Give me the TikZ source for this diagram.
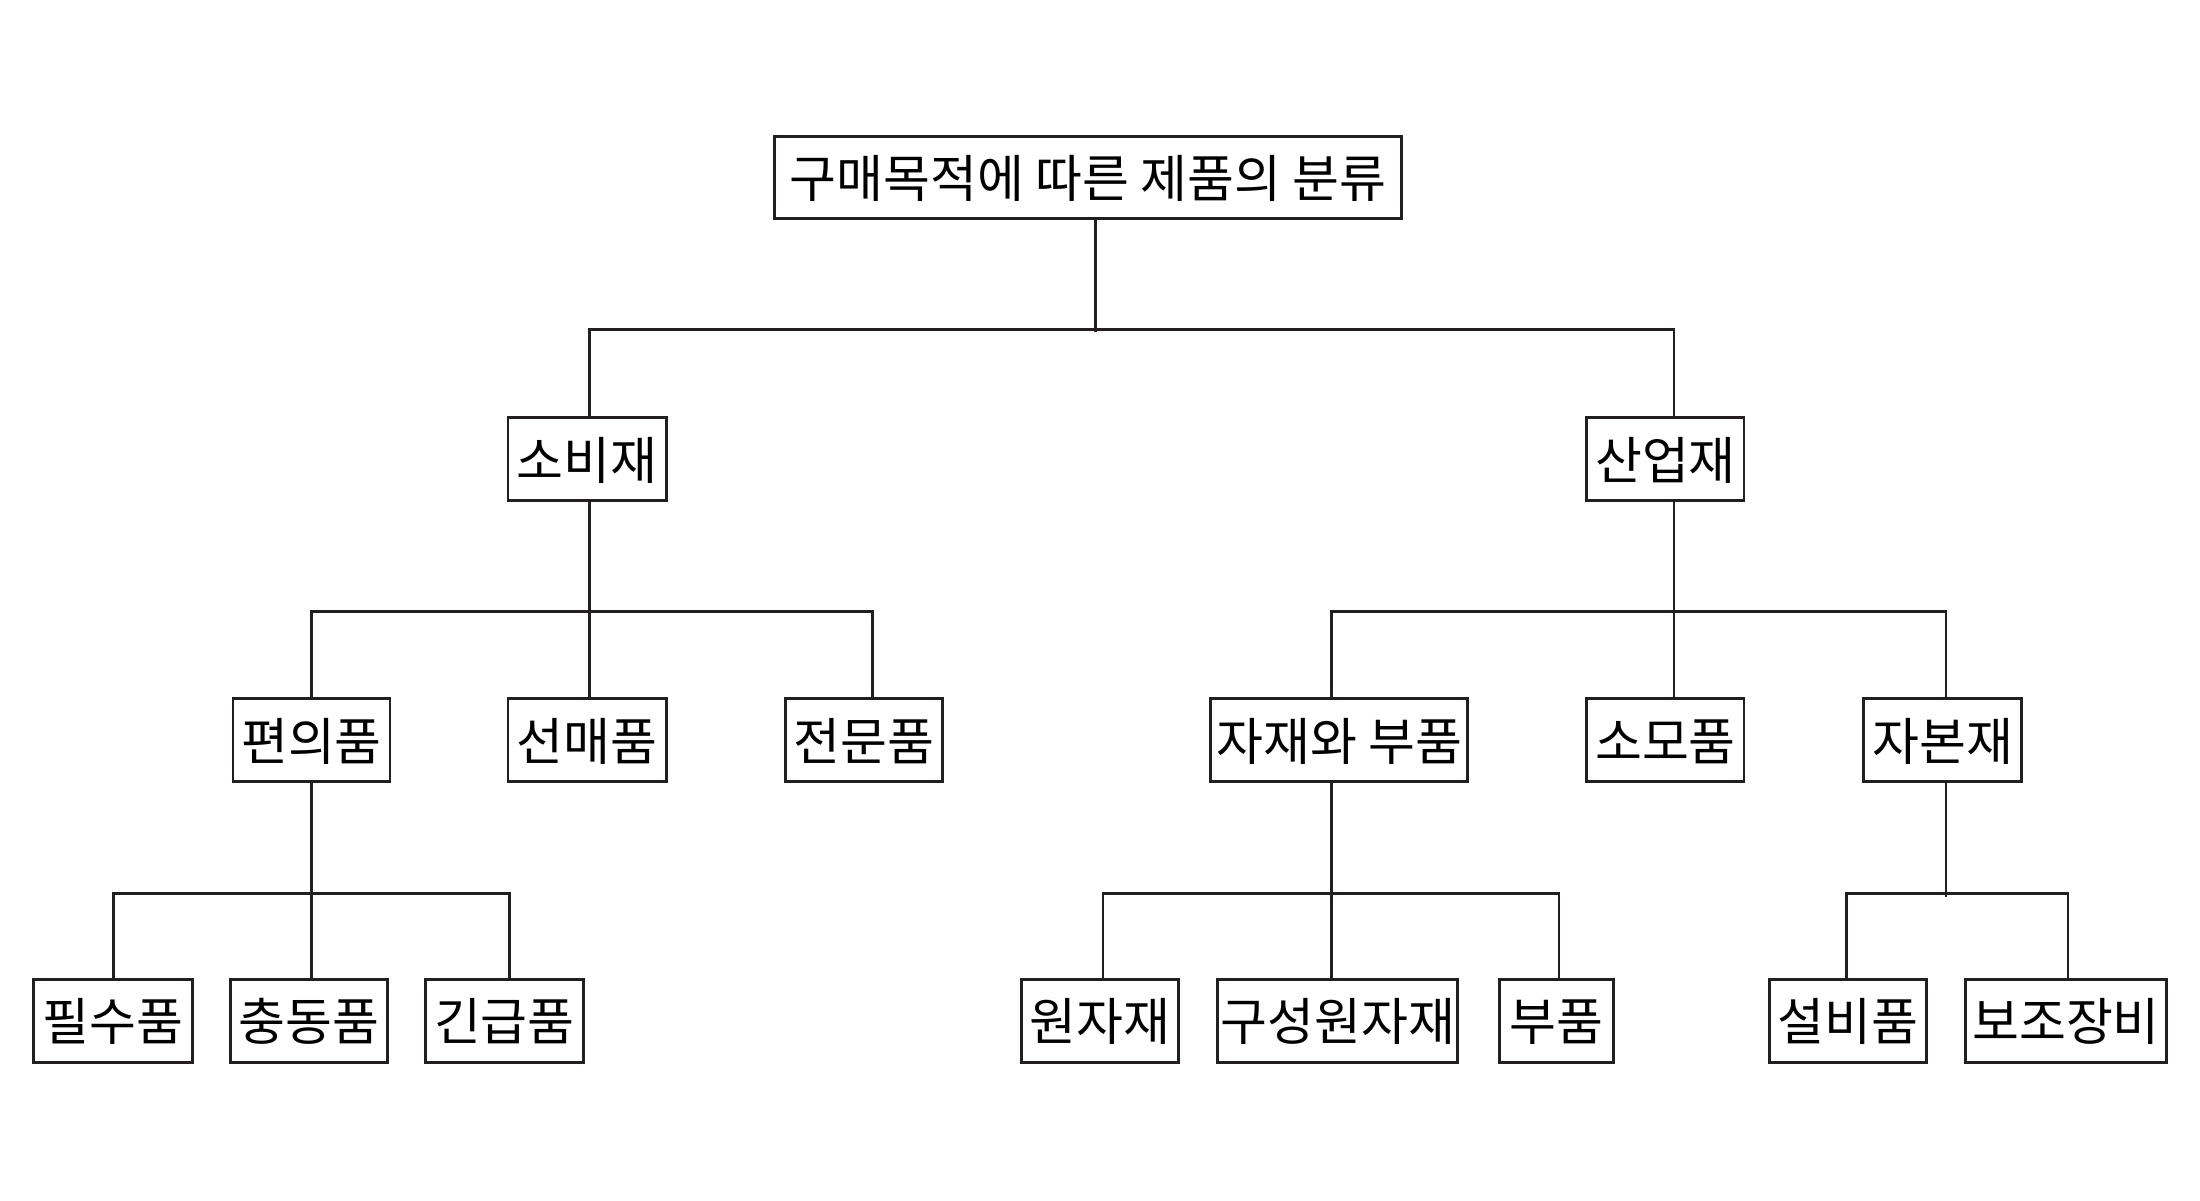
\documentclass[tikz,border=0pt]{standalone}
\usepackage{fontspec}
\setmainfont{Noto Sans CJK KR}
\usetikzlibrary{calc}
\definecolor{boxc}{RGB}{35,31,32}
\begin{document}
\begin{tikzpicture}[x=0.01403cm,y=-0.01403cm,
  box/.style={draw=boxc, line width=0.8pt, minimum height=59*0.01403cm, inner sep=0pt,
    font=\fontsize{14.5}{16}\selectfont, fill=white, text height=1.25em, text depth=0.1em},
  conn/.style={draw=boxc, line width=0.75pt}]
\useasboundingbox (0,0) rectangle (1568,855.3);
% nodes
\node[box, minimum width=447*0.01403cm] (root) at (775.5,126.5) {구매목적에 따른 제품의 분류};
\node[box, minimum width=113*0.01403cm] (sobi) at (418.5,327) {소비재};
\node[box, minimum width=112*0.01403cm] (sanup) at (1187,327) {산업재};
\node[box, minimum width=112*0.01403cm] (pyeon) at (222,527.5) {편의품};
\node[box, minimum width=113*0.01403cm] (seon) at (418.5,527.5) {선매품};
\node[box, minimum width=112*0.01403cm] (jeon) at (616,527.5) {전문품};
\node[box, minimum width=183*0.01403cm] (jajae) at (954.5,527.5) {자재와 부품};
\node[box, minimum width=112*0.01403cm] (somo) at (1187,527.5) {소모품};
\node[box, minimum width=113*0.01403cm] (jabon) at (1384.5,527.5) {자본재};
\node[box, minimum width=113*0.01403cm] (pilsu) at (80.5,727.5) {필수품};
\node[box, minimum width=112*0.01403cm] (chung) at (220,727.5) {충동품};
\node[box, minimum width=113*0.01403cm] (ging) at (359.5,727.5) {긴급품};
\node[box, minimum width=112*0.01403cm] (won) at (784,727.5) {원자재};
\node[box, minimum width=171*0.01403cm] (guseong) at (953.5,727.5) {구성원자재};
\node[box, minimum width=81*0.01403cm] (bupum) at (1109.5,727.5) {부품};
\node[box, minimum width=112*0.01403cm] (seolbi) at (1317,727.5) {설비품};
\node[box, minimum width=143*0.01403cm] (bojo) at (1472.5,727.5) {보조장비};
% connectors level 1
\draw[conn] ($(root.south)+(5.5,0)$) -- ++(0,79.5);
\draw[conn] ($(sobi.north)+(1.5,0)$) -- ++(0,-61.5) -| ($(sanup.north)+(6,0)$);
% level 2
\draw[conn] ($(sobi.south)+(1.5,0)$) -- ($(seon.north)+(1.5,0)$);
\draw[conn] (pyeon.north) -- ++(0,-61) -| ($(jeon.north)+(6,0)$);
\draw[conn] ($(sanup.south)+(6,0)$) -- ($(somo.north)+(6,0)$);
\draw[conn] ($(jajae.north)+(-5.5,0)$) -- ++(0,-61) -| ($(jabon.north)+(2.5,0)$);
% level 3
\draw[conn] (pyeon.south) -- ($(chung.north)+(2,0)$);
\draw[conn] ($(pilsu.north)+(0.5,0)$) -- ++(0,-60) -| ($(ging.north)+(3.5,0)$);
\draw[conn] ($(jajae.south)+(-5.5,0)$) -- ($(guseong.north)+(-4.5,0)$);
\draw[conn] ($(won.north)+(2,0)$) -- ++(0,-60) -| ($(bupum.north)+(1.5,0)$);
\draw[conn] ($(jabon.south)+(2.5,0)$) -- ++(0,81);
\draw[conn] ($(seolbi.north)+(-1,0)$) -- ++(0,-60) -| ($(bojo.north)+(1.5,0)$);
\end{tikzpicture}
\end{document}
